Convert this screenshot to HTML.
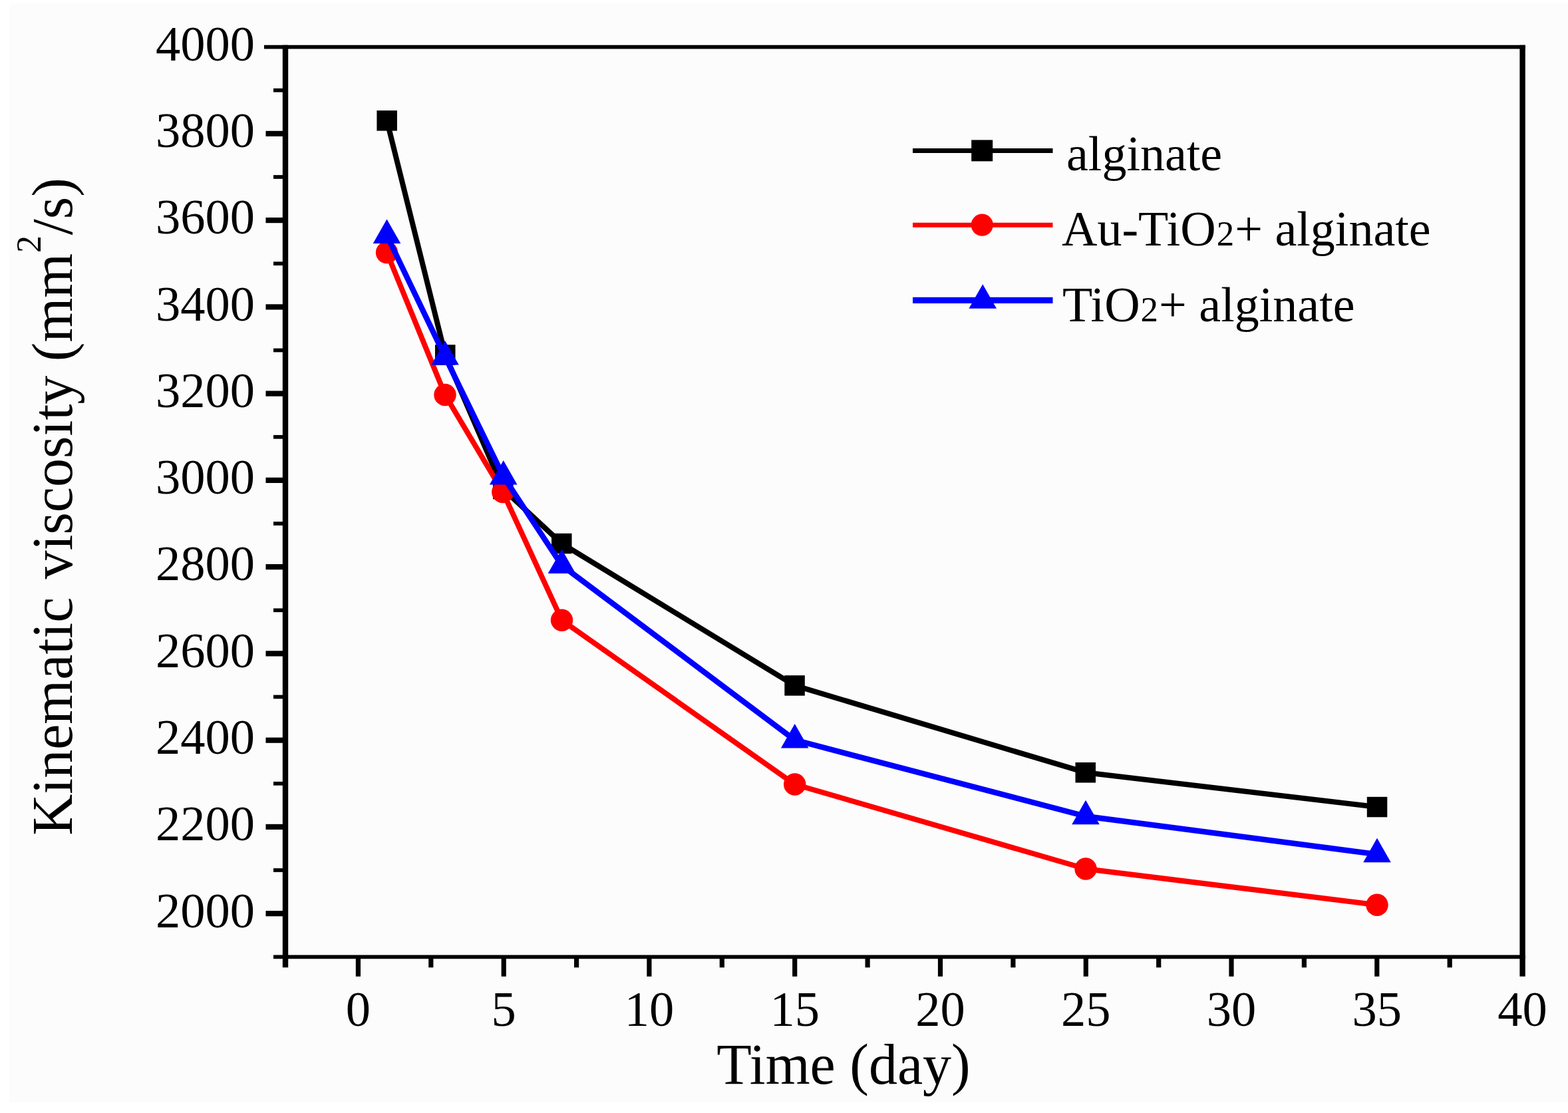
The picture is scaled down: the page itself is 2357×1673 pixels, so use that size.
<!DOCTYPE html>
<html lang="en"><head><meta charset="utf-8">
<title>Kinematic viscosity vs. time</title>
<style>
html,body{margin:0;padding:0;background:#fff;}
body{width:2357px;height:1673px;overflow:hidden;}
svg{display:block;}
text{font-family:"Liberation Serif", "DejaVu Serif", serif;fill:#000;}
.tk{font-size:74.5px;}
.lg{font-size:74px;}
.ti{font-size:86px;}
</style></head><body>
<svg width="2357" height="1673" viewBox="0 0 2357 1673" role="img" aria-label="Kinematic viscosity versus time">
<rect x="0" y="0" width="2357" height="1673" fill="#ffffff"/>
<rect x="14" y="5" width="2343" height="1652" fill="#fdfcfd"/>
<g stroke="#000" fill="none" stroke-linecap="butt">
<line x1="429" y1="67.8" x2="429" y2="1454.3" stroke-width="8.4"/>
<line x1="2288.6" y1="67.8" x2="2288.6" y2="1467.8" stroke-width="8.4"/>
<line x1="397" y1="70.6" x2="2292.8" y2="70.6" stroke-width="5.7"/>
<line x1="411" y1="1438.3" x2="2292.8" y2="1438.3" stroke-width="5.7"/>
<line x1="411" y1="135.7" x2="429" y2="135.7" stroke-width="5.7"/>
<line x1="399.5" y1="200.9" x2="429" y2="200.9" stroke-width="8.2"/>
<line x1="411" y1="266" x2="429" y2="266" stroke-width="5.7"/>
<line x1="399.5" y1="331.1" x2="429" y2="331.1" stroke-width="8.2"/>
<line x1="411" y1="396.2" x2="429" y2="396.2" stroke-width="5.7"/>
<line x1="399.5" y1="461.4" x2="429" y2="461.4" stroke-width="8.2"/>
<line x1="411" y1="526.5" x2="429" y2="526.5" stroke-width="5.7"/>
<line x1="399.5" y1="591.6" x2="429" y2="591.6" stroke-width="8.2"/>
<line x1="411" y1="656.8" x2="429" y2="656.8" stroke-width="5.7"/>
<line x1="399.5" y1="721.9" x2="429" y2="721.9" stroke-width="8.2"/>
<line x1="411" y1="787" x2="429" y2="787" stroke-width="5.7"/>
<line x1="399.5" y1="852.1" x2="429" y2="852.1" stroke-width="8.2"/>
<line x1="411" y1="917.3" x2="429" y2="917.3" stroke-width="5.7"/>
<line x1="399.5" y1="982.4" x2="429" y2="982.4" stroke-width="8.2"/>
<line x1="411" y1="1047.5" x2="429" y2="1047.5" stroke-width="5.7"/>
<line x1="399.5" y1="1112.7" x2="429" y2="1112.7" stroke-width="8.2"/>
<line x1="411" y1="1177.8" x2="429" y2="1177.8" stroke-width="5.7"/>
<line x1="399.5" y1="1242.9" x2="429" y2="1242.9" stroke-width="8.2"/>
<line x1="411" y1="1308" x2="429" y2="1308" stroke-width="5.7"/>
<line x1="399.5" y1="1373.2" x2="429" y2="1373.2" stroke-width="8.2"/>
<line x1="538.4" y1="1438.3" x2="538.4" y2="1467.8" stroke-width="7.2"/>
<line x1="647.8" y1="1438.3" x2="647.8" y2="1454.3" stroke-width="7.2"/>
<line x1="757.2" y1="1438.3" x2="757.2" y2="1467.8" stroke-width="7.2"/>
<line x1="866.6" y1="1438.3" x2="866.6" y2="1454.3" stroke-width="7.2"/>
<line x1="975.9" y1="1438.3" x2="975.9" y2="1467.8" stroke-width="7.2"/>
<line x1="1085.3" y1="1438.3" x2="1085.3" y2="1454.3" stroke-width="7.2"/>
<line x1="1194.7" y1="1438.3" x2="1194.7" y2="1467.8" stroke-width="7.2"/>
<line x1="1304.1" y1="1438.3" x2="1304.1" y2="1454.3" stroke-width="7.2"/>
<line x1="1413.5" y1="1438.3" x2="1413.5" y2="1467.8" stroke-width="7.2"/>
<line x1="1522.9" y1="1438.3" x2="1522.9" y2="1454.3" stroke-width="7.2"/>
<line x1="1632.3" y1="1438.3" x2="1632.3" y2="1467.8" stroke-width="7.2"/>
<line x1="1741.7" y1="1438.3" x2="1741.7" y2="1454.3" stroke-width="7.2"/>
<line x1="1851" y1="1438.3" x2="1851" y2="1467.8" stroke-width="7.2"/>
<line x1="1960.4" y1="1438.3" x2="1960.4" y2="1454.3" stroke-width="7.2"/>
<line x1="2069.8" y1="1438.3" x2="2069.8" y2="1467.8" stroke-width="7.2"/>
<line x1="2179.2" y1="1438.3" x2="2179.2" y2="1454.3" stroke-width="7.2"/>
</g>
<g class="tk" text-anchor="end">
<text x="383" y="90.9">4000</text>
<text x="383" y="221.2">3800</text>
<text x="383" y="351.4">3600</text>
<text x="383" y="481.7">3400</text>
<text x="383" y="611.9">3200</text>
<text x="383" y="742.2">3000</text>
<text x="383" y="872.4">2800</text>
<text x="383" y="1002.7">2600</text>
<text x="383" y="1133">2400</text>
<text x="383" y="1263.2">2200</text>
<text x="383" y="1393.5">2000</text>
</g>
<g class="tk" text-anchor="middle">
<text x="538.4" y="1541.5">0</text>
<text x="757.2" y="1541.5">5</text>
<text x="975.9" y="1541.5">10</text>
<text x="1194.7" y="1541.5">15</text>
<text x="1413.5" y="1541.5">20</text>
<text x="1632.3" y="1541.5">25</text>
<text x="1851" y="1541.5">30</text>
<text x="2069.8" y="1541.5">35</text>
<text x="2288.6" y="1541.5">40</text>
</g>
<text class="ti" text-anchor="middle" x="1268" y="1629">Time (day)</text>
<text class="ti" transform="translate(108 1255.8) rotate(-90)" x="0" y="0">Kinematic<tspan dx="5.6"> viscosity (mm</tspan><tspan dx="0.7" dy="-47" font-size="52">2</tspan><tspan dx="0.9" dy="47">/s)</tspan></text>
<polyline fill="none" stroke="#000" stroke-width="8" stroke-linejoin="round" points="581.6,181.3 669.3,533.5 756.3,735 844.3,817 1194.6,1030.4 1631.7,1161.2 2070,1213"/>
<rect x="566.4" y="166.1" width="30.5" height="30.5" fill="#000"/>
<rect x="654" y="518.2" width="30.5" height="30.5" fill="#000"/>
<rect x="741" y="719.8" width="30.5" height="30.5" fill="#000"/>
<rect x="829" y="801.8" width="30.5" height="30.5" fill="#000"/>
<rect x="1179.3" y="1015.2" width="30.5" height="30.5" fill="#000"/>
<rect x="1616.5" y="1146" width="30.5" height="30.5" fill="#000"/>
<rect x="2054.8" y="1197.8" width="30.5" height="30.5" fill="#000"/>
<polyline fill="none" stroke="#ff0000" stroke-width="8" stroke-linejoin="round" points="581.5,379.6 669,593.5 755.8,739.5 844.5,932.2 1194.7,1179 1632,1306 2070,1360.3"/>
<circle cx="581.5" cy="379.6" r="16.7" fill="#ff0000"/>
<circle cx="669" cy="593.5" r="16.7" fill="#ff0000"/>
<circle cx="755.8" cy="739.5" r="16.7" fill="#ff0000"/>
<circle cx="844.5" cy="932.2" r="16.7" fill="#ff0000"/>
<circle cx="1194.7" cy="1179" r="16.7" fill="#ff0000"/>
<circle cx="1632" cy="1306" r="16.7" fill="#ff0000"/>
<circle cx="2070" cy="1360.3" r="16.7" fill="#ff0000"/>
<polyline fill="none" stroke="#0000ff" stroke-width="8.4" stroke-linejoin="round" points="581.5,353.7 669,536.2 756.7,716.3 844.5,849.8 1194.7,1112.3 1632,1227 2070,1284.1"/>
<polygon fill="#0000ff" points="581.5,329.4 602.3,365.9 560.7,365.9"/>
<polygon fill="#0000ff" points="669,511.9 689.8,548.4 648.2,548.4"/>
<polygon fill="#0000ff" points="756.7,692 777.5,728.5 735.9,728.5"/>
<polygon fill="#0000ff" points="844.5,825.5 865.3,862 823.7,862"/>
<polygon fill="#0000ff" points="1194.7,1088 1215.5,1124.5 1173.9,1124.5"/>
<polygon fill="#0000ff" points="1632,1202.7 1652.8,1239.2 1611.2,1239.2"/>
<polygon fill="#0000ff" points="2070,1259.8 2090.8,1296.3 2049.2,1296.3"/>
<line x1="1372" y1="226.5" x2="1582.5" y2="226.5" stroke="#000" stroke-width="7"/>
<rect x="1460.2" y="210.4" width="32" height="32" fill="#000"/>
<line x1="1372" y1="338.2" x2="1582.5" y2="338.2" stroke="#ff0000" stroke-width="7"/>
<circle cx="1476.3" cy="338.2" r="16.6" fill="#ff0000"/>
<line x1="1372" y1="451.3" x2="1582.5" y2="451.3" stroke="#0000ff" stroke-width="9.2"/>
<polygon fill="#0000ff" points="1477.2,427.3 1498,463.8 1456.4,463.8"/>
<g class="lg">
<text x="1603" y="256">alginate</text>
<text x="1596" y="368.5">Au-TiO<tspan dx="1" font-size="53">2</tspan><tspan dx="1">+ alginate</tspan></text>
<text x="1597" y="482.5">TiO<tspan dx="1" font-size="53">2</tspan><tspan dx="1">+ alginate</tspan></text>
</g>
</svg>
</body></html>
